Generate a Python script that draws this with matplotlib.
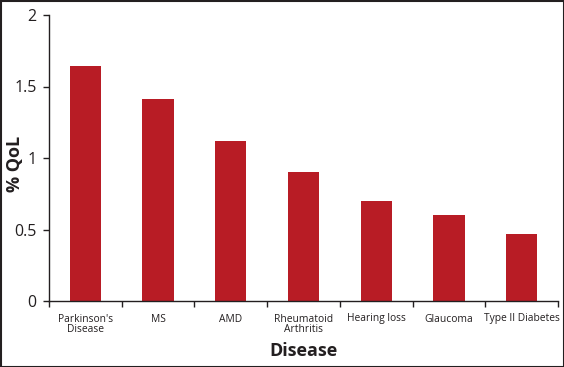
import matplotlib
matplotlib.use("Agg")
import matplotlib.pyplot as plt
from matplotlib.patches import Rectangle

categories = ["Parkinson's\nDisease", "MS", "AMD", "Rheumatoid\nArthritis",
              "Hearing loss", "Glaucoma", "Type II Diabetes"]
values = [1.64, 1.41, 1.12, 0.90, 0.70, 0.60, 0.47]
yticks = [0, 0.5, 1, 1.5, 2]
ytick_labels = ["0", "0.5", "1", "1.5", "2"]

plt.rcParams['font.family'] = ['Open Sans', 'DejaVu Sans']

fig = plt.figure(figsize=(5.64, 3.67), dpi=100)
ax = fig.add_axes([49/564, 1-301/367, (558-49)/564, (301-15)/367])

n = len(categories)
x = list(range(n))
ax.bar(x, values, width=0.43, color="#b81c25", zorder=2)
ax.set_xlim(-0.5, n - 0.5)
ax.set_ylim(0, 2)

ax.set_yticks(yticks)
ax.set_yticklabels(ytick_labels, fontsize=11.5, color="#231f20")
ax.set_xticks(x)
ax.set_xticklabels(categories, fontsize=7.4, color="#231f20", linespacing=1.0)
ax.set_xticks([i - 0.5 for i in range(n + 1)], minor=True)
ax.tick_params(axis='x', which='major', length=0, pad=9)
ax.tick_params(axis='x', which='minor', length=4, width=1, color="#231f20", direction='out')
ax.tick_params(axis='y', length=4, width=1, color="#231f20", pad=5)

for s in ['top', 'right']:
    ax.spines[s].set_visible(False)
for s in ['left', 'bottom']:
    ax.spines[s].set_color("#231f20")
    ax.spines[s].set_linewidth(1.0)

ax.set_ylabel("% QoL", fontsize=13, fontweight='bold', color="#231f20")
ax.yaxis.set_label_coords((24 - 49) / 509, 0.48)
ax.set_xlabel("Disease", fontsize=13, fontweight='bold', color="#231f20")
ax.xaxis.set_label_coords(0.5, -(342 - 301) / 286)

fig.patches.append(Rectangle((0.5/564, 0.5/367), 1-1/564, 1-1/367, transform=fig.transFigure,
                             fill=False, edgecolor="#231f20", linewidth=1.5))

fig.savefig("out.png", dpi=100)
